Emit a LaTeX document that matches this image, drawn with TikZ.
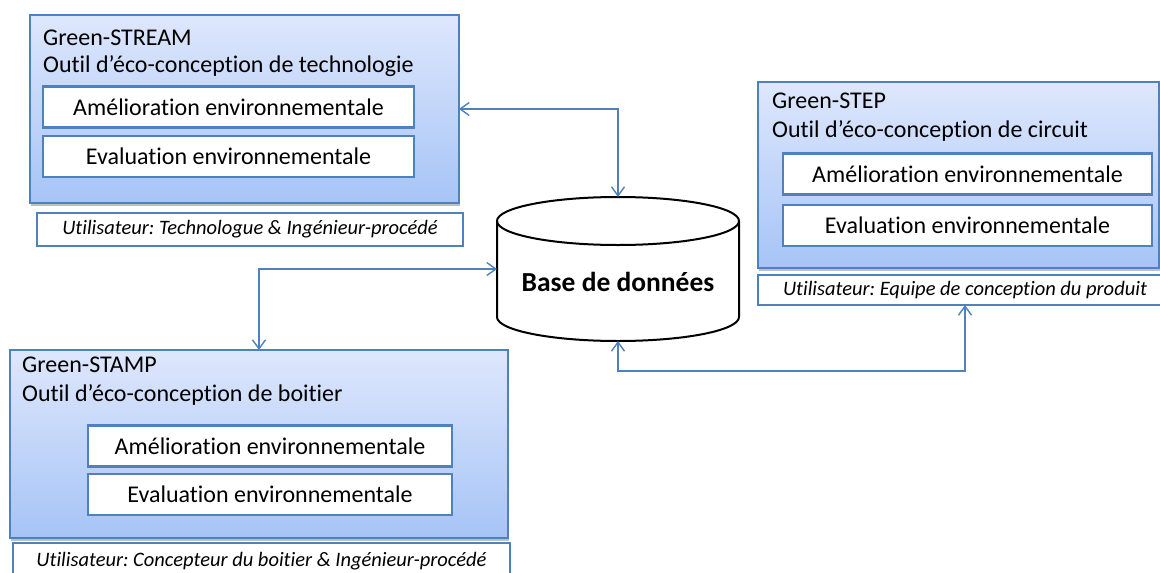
\documentclass[tikz,border=0pt]{standalone}
\usepackage{fontspec}
\setmainfont[Ligatures=NoCommon]{Carlito}
\usepackage{tikz}
\usetikzlibrary{arrows.meta, shadows}
\definecolor{boxblue}{RGB}{79,129,189}
\definecolor{gradtop}{RGB}{222,231,252}
\definecolor{gradbot}{RGB}{166,196,246}
\tikzset{
  toolbox/.style={rectangle, draw=boxblue, line width=1.3pt, top color=gradtop, bottom color=gradbot, anchor=north west, inner sep=0pt, outer sep=0pt, drop shadow={shadow xshift=0.5pt, shadow yshift=-2.5pt, fill=black, opacity=0.25}},
  modbox/.style={rectangle, draw=boxblue, line width=2.2pt, fill=white, minimum height=41pt, inner sep=0pt, font=\fontsize{24}{28}\selectfont},
  userbox/.style={rectangle, draw=boxblue, line width=2.2pt, fill=white, anchor=north west, inner sep=0pt, outer sep=0pt, font=\fontsize{20.5}{25}\selectfont\itshape},
  tooltitle/.style={anchor=base west, inner sep=0pt, font=\fontsize{24}{28}\selectfont},
  dbline/.style={line width=2pt, draw=black},
  arrow/.style={{Straight Barb[length=9pt, width=13pt]}-{Straight Barb[length=9pt, width=13pt]}, line width=1.4pt, draw=boxblue}
}
\frenchspacing
\begin{document}
\begin{tikzpicture}[x=1pt, y=-1pt]
  \useasboundingbox (0,0) rectangle (1160,573);
  \clip (0,0) rectangle (1160,573);
  % tool boxes
  \node[toolbox, minimum width=429pt, minimum height=188pt] (stream) at (30,15) {};
  \node[toolbox, minimum width=401pt, minimum height=186pt] (step) at (758,82) {};
  \node[toolbox, minimum width=498pt, minimum height=188pt] (stamp) at (10,350) {};
  \node[tooltitle] (streamname) at (43,45) {Green-STREAM};
  \node[tooltitle] (streamtool) at (43,72) {Outil d’éco-conception de technologie};
  \node[tooltitle] (stepname) at (772,108) {Green-STEP};
  \node[tooltitle] (steptool) at (772,137) {Outil d’éco-conception de circuit};
  \node[tooltitle] (stampname) at (22,372) {Green-STAMP};
  \node[tooltitle] (stamptool) at (22,401) {Outil d’éco-conception de boitier};
  \node[modbox, minimum width=371pt] (streamamel) at (228.5,107) {Amélioration environnementale};
  \node[modbox, minimum width=371pt] (streameval) at (228.5,156.5) {Evaluation environnementale};
  \node[modbox, minimum width=369pt] (stepamel) at (967.5,174) {Amélioration environnementale};
  \node[modbox, minimum width=369pt] (stepeval) at (967.5,225.5) {Evaluation environnementale};
  \node[modbox, minimum width=364pt] (stampamel) at (270,446) {Amélioration environnementale};
  \node[modbox, minimum width=364pt] (stampeval) at (270,494.5) {Evaluation environnementale};
  % users
  \node[userbox, minimum width=426pt, minimum height=33pt] (streamuser) at (37,213) {Utilisateur: Technologue \& Ingénieur-procédé};
  \node[userbox, minimum width=414pt, minimum height=30pt] (stepuser) at (758,275) {Utilisateur: Equipe de conception du produit};
  \node[userbox, minimum width=497pt, minimum height=36pt] (stampuser) at (13,543) {Utilisateur: Concepteur du boitier \& Ingénieur-procédé};
  % database
  \node[rectangle, inner sep=0pt, outer sep=0pt, minimum width=242pt, minimum height=144pt] (db) at (618,269) {};
  \draw[dbline, fill=white] ([yshift=-24pt]db.north west) -- ([yshift=24pt]db.south west) arc[start angle=180, end angle=360, x radius=121pt, y radius=24pt] -- ([yshift=-24pt]db.north east);
  \draw[dbline] ([yshift=-24pt]db.north) ellipse[x radius=121pt, y radius=24pt];
  \node[font=\fontsize{27.5}{32}\selectfont\bfseries] (dblabel) at (618,282) {Base de données};
  % links
  \draw[arrow] (stream.east) -| (db.north);
  \draw[arrow] (db.west) -| (stamp.north);
  \draw[arrow] (db.south) -- ++(0,30) -| (stepuser.south);
\end{tikzpicture}
\end{document}
